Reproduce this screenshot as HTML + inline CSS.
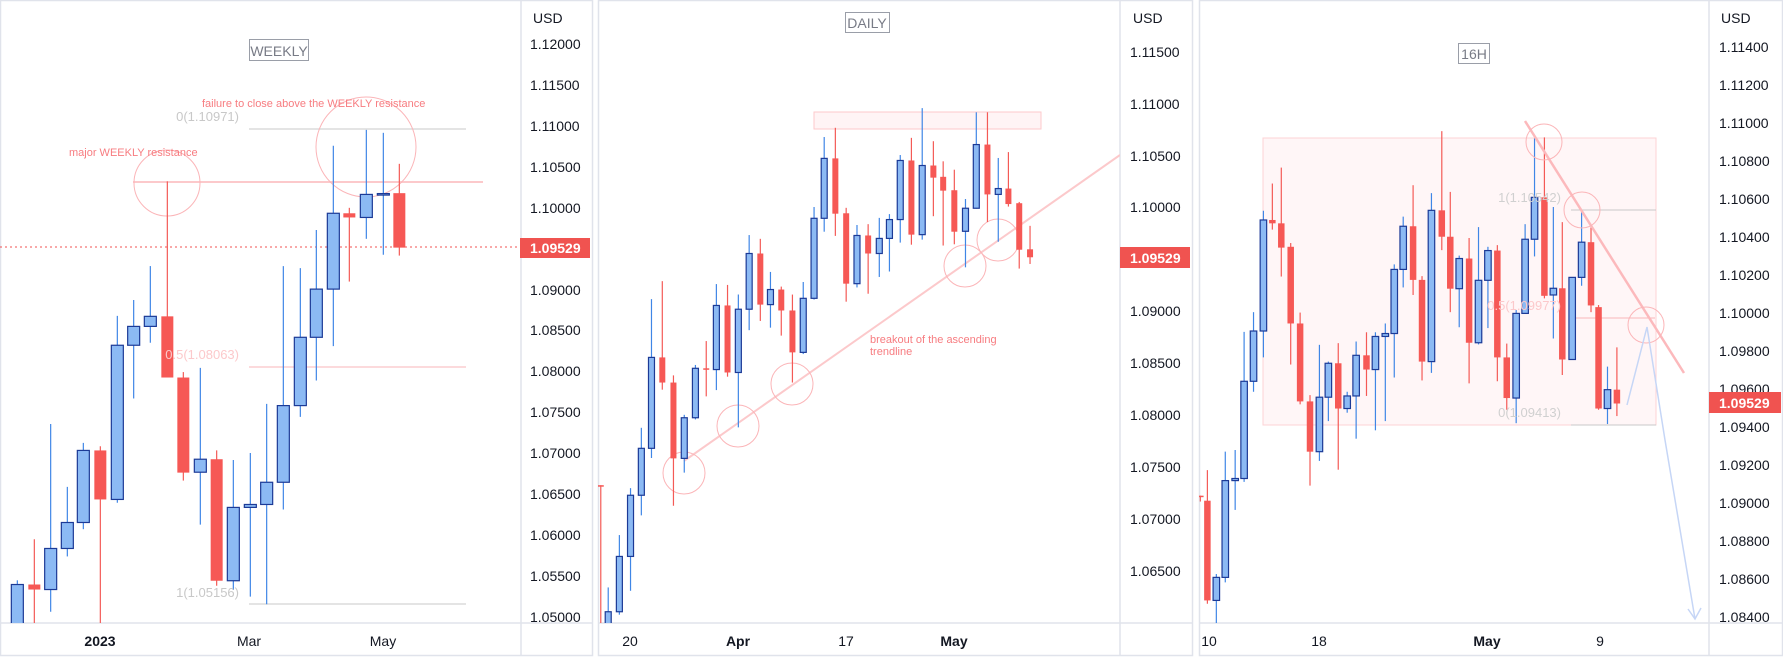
<!DOCTYPE html>
<html><head><meta charset="utf-8"><style>
html,body{margin:0;padding:0;background:#fff;}
svg{display:block;font-family:"Liberation Sans",sans-serif;}
.ax{font-size:14px;fill:#131722;}
.dt{font-size:14px;fill:#131722;text-anchor:middle;}
.an{font-size:11px;fill:#f77c80;}
.fib{font-size:13px;fill:#c8c8c8;text-anchor:end;}
</style></head><body>
<svg id="s" width="1783" height="657" viewBox="0 0 1783 657" xmlns="http://www.w3.org/2000/svg">
<defs>
<clipPath id="c1"><rect x="0" y="0" width="520" height="623"/></clipPath>
<clipPath id="c2"><rect x="598" y="0" width="522" height="623"/></clipPath>
<clipPath id="c3"><rect x="1199" y="0" width="510" height="623"/></clipPath>
</defs>
<rect width="1783" height="657" fill="#fff"/>
<g stroke="#e0e3eb" stroke-width="1.5" fill="none">
<rect x="0.5" y="0.5" width="592" height="655"/>
<line x1="521" y1="0" x2="521" y2="656"/>
<line x1="0" y1="623" x2="592" y2="623"/>
<rect x="598.5" y="0.5" width="594" height="655"/>
<line x1="1120" y1="0" x2="1120" y2="656"/>
<line x1="598" y1="623" x2="1193" y2="623"/>
<rect x="1199.5" y="0.5" width="583" height="655"/>
<line x1="1709" y1="0" x2="1709" y2="656"/>
<line x1="1199" y1="623" x2="1783" y2="623"/>
</g>

<g clip-path="url(#c1)">
<line x1="0" y1="247" x2="520" y2="247" stroke="#f05050" stroke-width="1" stroke-dasharray="2,3"/>
<line x1="249" y1="129" x2="466" y2="129" stroke="#c8c8c8" stroke-width="1"/>
<line x1="249" y1="367" x2="466" y2="367" stroke="#f9b5b8" stroke-width="1"/>
<line x1="249" y1="604" x2="466" y2="604" stroke="#c8c8c8" stroke-width="1"/>
<line x1="133" y1="182" x2="483" y2="182" stroke="#fcc9cb" stroke-width="2"/>
<circle cx="167" cy="183" r="33" fill="none" stroke="#fbb5b8" stroke-width="1"/>
<circle cx="366" cy="147" r="50" fill="none" stroke="#fbb5b8" stroke-width="1"/>
<g id="p1"></g>
<text class="fib" x="239" y="121">0(1.10971)</text>
<text class="fib" x="239" y="359" style="fill:#fcc9cb">0.5(1.08063)</text>
<text class="fib" x="239" y="597">1(1.05156)</text>
<text class="an" x="69" y="156">major WEEKLY resistance</text>
<text class="an" x="202" y="107">failure to close above the WEEKLY resistance</text>
<rect x="249.5" y="39.5" width="59" height="21" fill="#fff" stroke="#9a9ea8"/>
<text x="279" y="56" font-size="14" fill="#787b86" text-anchor="middle">WEEKLY</text>
</g>
<text class="dt" x="100" y="646" font-weight="bold">2023</text>
<text class="dt" x="249" y="646">Mar</text>
<text class="dt" x="383" y="646">May</text>

<g class="ax">
<text x="533" y="23">USD</text>
<text x="530" y="49">1.12000</text><text x="530" y="90">1.11500</text><text x="530" y="131">1.11000</text>
<text x="530" y="172">1.10500</text><text x="530" y="213">1.10000</text><text x="530" y="295">1.09000</text>
<text x="530" y="335">1.08500</text><text x="530" y="376">1.08000</text><text x="530" y="417">1.07500</text>
<text x="530" y="458">1.07000</text><text x="530" y="499">1.06500</text><text x="530" y="540">1.06000</text>
<text x="530" y="581">1.05500</text><text x="530" y="622">1.05000</text>
</g>
<rect x="520" y="238" width="70" height="20" fill="#f05350"/>
<text x="530" y="253" font-size="14" font-weight="bold" fill="#fff">1.09529</text>

<g clip-path="url(#c2)">
<rect x="814" y="112" width="227" height="17" fill="#fff4f5" stroke="#fcc9cb" stroke-width="1"/>
<line x1="684" y1="461" x2="1120" y2="155" stroke="#fcc9cb" stroke-width="2"/>
<g fill="none" stroke="#fbb5b8" stroke-width="1">
<circle cx="684" cy="473" r="21"/><circle cx="738" cy="426" r="21"/><circle cx="792" cy="384" r="21"/>
<circle cx="965" cy="266" r="21"/><circle cx="998" cy="240" r="21"/>
</g>
<g id="p2"></g>
<text class="an" x="870" y="343">breakout of the ascending</text>
<text class="an" x="870" y="355">trendline</text>
<rect x="845.5" y="12.5" width="44" height="20" fill="#fff" stroke="#9a9ea8"/>
<text x="867" y="28" font-size="14" fill="#787b86" text-anchor="middle">DAILY</text>
</g>
<text class="dt" x="630" y="646">20</text>
<text class="dt" x="738" y="646" font-weight="bold">Apr</text>
<text class="dt" x="846" y="646">17</text>
<text class="dt" x="954" y="646" font-weight="bold">May</text>

<g class="ax">
<text x="1133" y="23">USD</text>
<text x="1130" y="57">1.11500</text><text x="1130" y="109">1.11000</text><text x="1130" y="161">1.10500</text>
<text x="1130" y="212">1.10000</text><text x="1130" y="316">1.09000</text><text x="1130" y="368">1.08500</text>
<text x="1130" y="420">1.08000</text><text x="1130" y="472">1.07500</text><text x="1130" y="524">1.07000</text>
<text x="1130" y="576">1.06500</text>
</g>
<rect x="1120" y="247" width="70" height="21" fill="#f05350"/>
<text x="1130" y="263" font-size="14" font-weight="bold" fill="#fff">1.09529</text>

<g clip-path="url(#c3)">
<rect x="1263" y="138" width="393" height="287" fill="#fff6f7" stroke="#fcd3d5" stroke-width="1"/>
<line x1="1571" y1="210" x2="1656" y2="210" stroke="#c8c8c8"/>
<line x1="1576" y1="318" x2="1655" y2="318" stroke="#f9b5b8"/>
<line x1="1571" y1="425" x2="1656" y2="425" stroke="#c8c8c8"/>
<g id="p3"></g>
<line x1="1525" y1="121" x2="1684" y2="373" stroke="#fcb9bc" stroke-width="2.5"/>
<g fill="none" stroke="#fbb5b8" stroke-width="1">
<circle cx="1544" cy="142" r="18"/><circle cx="1582" cy="210" r="18"/><circle cx="1646" cy="325" r="18"/>
</g>
<polyline points="1627,405 1647,327 1665,440 1695,619" fill="none" stroke="#c6d6f6" stroke-width="1.5"/>
<polyline points="1688,609 1695,619 1701,608" fill="none" stroke="#c6d6f6" stroke-width="1.5"/>
<text class="fib" x="1561" y="202" style="fill:#d0d0d0">1(1.10542)</text>
<text class="fib" x="1561" y="310" style="fill:#fcc9cb">0.5(1.09977)</text>
<text class="fib" x="1561" y="417" style="fill:#d0d0d0">0(1.09413)</text>
<rect x="1458.5" y="43.5" width="31" height="20" fill="#fff" stroke="#9a9ea8"/>
<text x="1474" y="59" font-size="14" fill="#787b86" text-anchor="middle">16H</text>
</g>
<text class="dt" x="1209" y="646">10</text>
<text class="dt" x="1319" y="646">18</text>
<text class="dt" x="1487" y="646" font-weight="bold">May</text>
<text class="dt" x="1600" y="646">9</text>

<g class="ax">
<text x="1721" y="23">USD</text>
<text x="1719" y="52">1.11400</text><text x="1719" y="90">1.11200</text><text x="1719" y="128">1.11000</text>
<text x="1719" y="166">1.10800</text><text x="1719" y="204">1.10600</text><text x="1719" y="242">1.10400</text>
<text x="1719" y="280">1.10200</text><text x="1719" y="318">1.10000</text><text x="1719" y="356">1.09800</text>
<text x="1719" y="394">1.09600</text><text x="1719" y="432">1.09400</text><text x="1719" y="470">1.09200</text>
<text x="1719" y="508">1.09000</text><text x="1719" y="546">1.08800</text><text x="1719" y="584">1.08600</text>
<text x="1719" y="622">1.08400</text>
</g>
<rect x="1709" y="392" width="72" height="21" fill="#f05350"/>
<text x="1719" y="408" font-size="14" font-weight="bold" fill="#fff">1.09529</text>
</svg>
<script>
var K=0.419,NS="http://www.w3.org/2000/svg";
function el(t,a,p){var e=document.createElementNS(NS,t);for(var k in a)e.setAttribute(k,a[k]);p.appendChild(e);}
function draw(id,ox,sx,w,d){var g=document.getElementById(id);d.forEach(function(c){
var x=ox+c[0]*sx,up=c[1]=='b',col=up?'#3f86e6':'#f45a56';
el('line',{x1:x,x2:x,y1:c[4]*K,y2:c[5]*K,stroke:col,'stroke-width':1.2},g);
var t=c[2]*K,b=c[3]*K,h=Math.max(b-t,1.5);
if(up)el('rect',{x:x-w/2,y:t,width:w,height:h,fill:'#8cbaf4',stroke:'#1c3a96','stroke-width':1.2},g);
else el('rect',{x:x-w/2,y:t,width:w,height:h,fill:'#f65855'},g);});}
draw('p1',0,1/3,12,[
[52,'b',1395,1500,1385,1500],[103,'r',1395,1407,1287,1500],[152,'b',1309,1407,1012,1460],[202,'b',1247,1309,1162,1328],
[250,'b',1075,1247,1057,1263],[301,'r',1075,1192,1065,1500],[352,'b',824,1192,754,1200],[401,'b',779,824,716,951],
[451,'b',755,779,635,818],[502,'r',755,901,433,901],[550,'r',901,1128,888,1147],[601,'b',1096,1127,878,1252],
[650,'r',1096,1386,1075,1398],[700,'b',1211,1386,1098,1408],[751,'b',1204,1211,1081,1424],[800,'b',1151,1204,964,1442],
[850,'b',968,1151,635,1216],[901,'b',805,968,640,995],[949,'b',690,805,549,908],[1000,'b',509,690,348,826],
[1048,'r',509,519,496,672],[1099,'b',464,519,310,570],[1150,'b',462,464,317,608],[1198,'r',461,591,391,610]]);
draw('p2',520,0.338,6,[
[239,'r',1158,1160,1158,1500],[261,'b',1460,1500,1402,1500],[294,'b',1328,1460,1277,1467],[327,'b',1182,1328,1165,1410],
[359,'b',1070,1182,1021,1230],[389,'b',853,1070,714,1093],[421,'r',853,913,671,930],[454,'r',913,1094,896,1207],
[486,'b',997,1094,990,1128],[519,'b',879,997,871,1001],[551,'r',879,882,814,946],[581,'b',729,882,678,931],
[614,'r',729,889,680,899],[646,'b',738,889,703,1020],[678,'b',605,738,561,788],[711,'r',605,727,570,766],
[741,'b',691,727,649,782],[773,'r',691,741,684,801],[806,'r',741,841,703,913],[838,'b',712,841,673,845],
[870,'b',521,712,494,715],[900,'b',378,521,327,553],[933,'r',378,510,305,563],[965,'r',509,677,496,720],
[997,'b',562,677,537,686],[1030,'r',562,605,535,701],[1063,'b',569,605,520,661],[1093,'b',524,569,511,648],
[1125,'b',383,524,370,579],[1158,'r',383,560,329,584],[1190,'b',395,560,258,572],[1223,'r',395,424,337,516],
[1252,'r',422,455,385,586],[1285,'r',454,553,405,583],[1318,'b',497,552,475,638],[1350,'b',345,497,268,498],
[1383,'r',345,464,268,530],[1415,'b',450,464,377,577],[1445,'r',450,487,363,493],[1477,'r',485,596,482,641],
[1509,'r',595,614,539,630]]);
draw('p3',1045,0.4707,6.5,[
[330,'r',1183,1186,1183,1197],[345,'r',1195,1433,1122,1441],[364,'b',1378,1433,1370,1500],[383,'b',1147,1378,1078,1390],
[404,'b',1142,1147,1074,1217],[423,'b',910,1142,792,1150],[443,'b',790,910,745,935],[464,'b',525,790,503,853],
[483,'r',525,533,438,548],[502,'r',533,591,400,660],[522,'r',589,772,580,870],[542,'r',772,958,746,965],
[563,'r',958,1078,943,1159],[583,'b',948,1078,823,1100],[602,'b',867,948,863,1005],[623,'r',867,975,819,1121],
[642,'b',945,975,935,985],[661,'b',848,945,815,1047],[683,'r',848,882,793,945],[702,'b',803,882,793,1027],
[723,'b',796,803,772,1005],[742,'b',643,796,631,901],[761,'b',540,643,517,686],[782,'r',540,668,442,704],
[801,'r',668,863,659,908],[821,'b',502,863,461,890],[843,'r',502,565,313,597],[861,'r',565,689,458,745],
[880,'b',617,689,610,781],[901,'r',617,818,568,915],[921,'b',669,818,542,822],[941,'b',598,669,589,783],
[961,'r',598,853,585,910],[981,'r',853,950,820,978],[1001,'b',748,950,740,1010],[1020,'b',571,748,535,748],
[1040,'b',471,571,330,612],[1061,'r',471,706,328,712],[1080,'b',688,704,494,808],[1099,'r',688,858,530,895],
[1120,'b',662,858,662,858],[1140,'b',578,662,500,682],[1160,'r',578,729,543,745],[1176,'r',733,975,728,978],
[1195,'b',930,975,875,1012],[1215,'r',930,963,829,993]]);
</script>
</body></html>
